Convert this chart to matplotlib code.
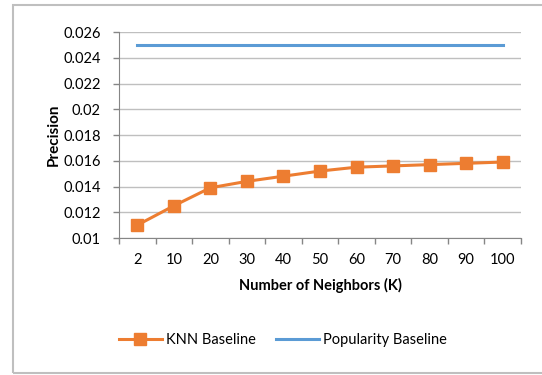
import matplotlib
matplotlib.use("Agg")
import matplotlib.pyplot as plt
from matplotlib.patches import Rectangle

plt.rcParams["font.family"] = ["Lato", "DejaVu Sans"]

k_labels = ["2", "10", "20", "30", "40", "50", "60", "70", "80", "90", "100"]
knn_precision = [0.0110, 0.0125, 0.0139, 0.0144, 0.0148, 0.0152,
                 0.0155, 0.0156, 0.0157, 0.0158, 0.0159]
popularity_precision = [0.025] * len(k_labels)
y_ticks = [0.01, 0.012, 0.014, 0.016, 0.018, 0.02, 0.022, 0.024, 0.026]
y_tick_labels = ["0.01", "0.012", "0.014", "0.016", "0.018", "0.02",
                 "0.022", "0.024", "0.026"]

W, H = 542, 375
fig = plt.figure(figsize=(W / 100, H / 100), dpi=100)
ax = fig.add_axes([119 / W, 1 - 238 / H, (521 - 119) / W, (238 - 32) / H])

x = list(range(len(k_labels)))
ax.plot(x, knn_precision, color="#ED7D31", lw=2.2, marker="s", ms=8,
        label="KNN Baseline", zorder=3)
ax.plot(x, popularity_precision, color="#5B9BD5", lw=2.2,
        label="Popularity Baseline", zorder=3)

ax.set_xlim(-0.5, len(k_labels) - 0.5)
ax.set_ylim(0.01, 0.026)
ax.set_yticks(y_ticks)
ax.set_yticklabels(y_tick_labels)

# category axis: tick marks between categories, labels at centers
ax.set_xticks([i - 0.5 for i in range(len(k_labels) + 1)])
ax.set_xticklabels([])
ax.set_xticks(x, minor=True)
ax.set_xticklabels(k_labels, minor=True)
ax.tick_params(axis="x", which="major", length=4, color="#868686", width=1)
ax.tick_params(axis="x", which="minor", length=0, pad=11, labelsize=10.5)
ax.tick_params(axis="y", length=4, color="#868686", width=1, pad=9, labelsize=10.5)

ax.grid(axis="y", color="#BFBFBF", lw=1)
ax.set_axisbelow(True)
for side in ["top", "right"]:
    ax.spines[side].set_visible(False)
for side in ["left", "bottom"]:
    ax.spines[side].set_color("#868686")

ax.set_ylabel("Precision", fontweight="bold", fontsize=11, labelpad=2)
ax.set_xlabel("Number of Neighbors (K)", fontweight="bold", fontsize=10.5, labelpad=8)

fig.legend(loc="center", bbox_to_anchor=(283 / W, 1 - 340 / H), ncol=2,
           frameon=False, fontsize=10.5, handlelength=2.9, columnspacing=1.4,
           handletextpad=0.3)

fig.patches.append(Rectangle((13 / W, 1 - 373 / H), 1.2, (373 - 5) / H,
                             transform=fig.transFigure, fill=False,
                             edgecolor="#BFBFBF", lw=1.5))

fig.savefig("out.png", dpi=100)
